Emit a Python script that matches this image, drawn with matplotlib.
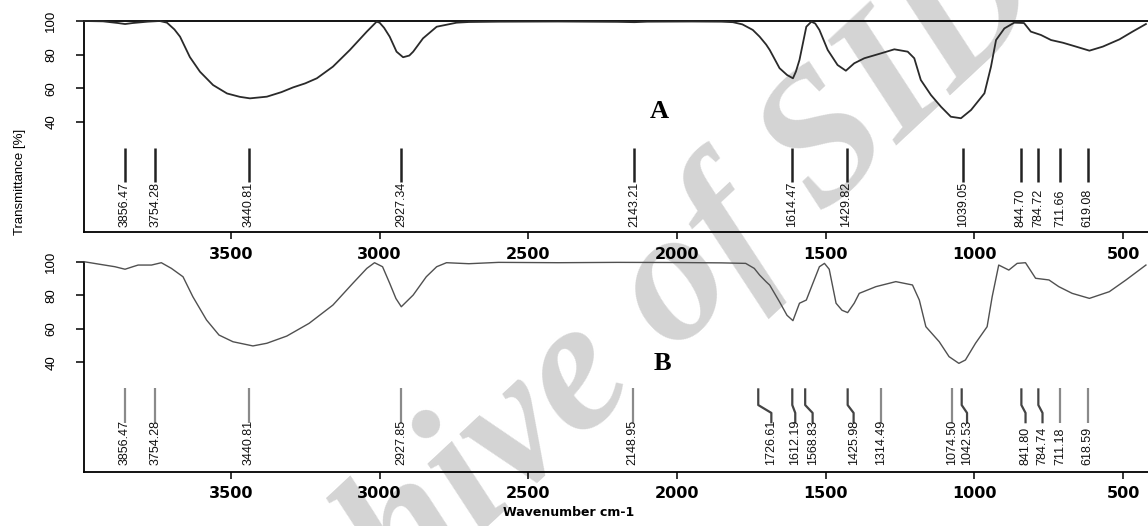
import matplotlib
matplotlib.use("Agg")
import matplotlib.pyplot as plt

# ---------------- data ----------------
wn_a = [3994, 3930, 3880, 3856, 3830, 3780, 3739, 3715, 3690, 3671, 3638, 3604, 3560, 3513,
        3470, 3436, 3379, 3330, 3291, 3250, 3211, 3157, 3100, 3043, 3010, 3000, 2985, 2966,
        2943, 2921, 2900, 2887, 2854, 2808, 2741, 2700, 2600, 2400, 2200, 2143, 2100, 1950,
        1850, 1812, 1780, 1745, 1722, 1700, 1688, 1655, 1630, 1610, 1600, 1588, 1565, 1548,
        1535, 1521, 1493, 1460, 1432, 1404, 1370, 1314, 1269, 1224, 1202, 1180, 1146, 1112,
        1079, 1045, 1011, 966, 944, 927, 899, 866, 833, 810, 776, 742, 702, 658, 613, 568,
        512, 468, 423]
t_a = [100, 99.8, 98.8, 98.2, 98.8, 99.6, 100, 99, 95, 90.7, 78.6, 69.9, 62, 57,
       55, 54.1, 55.1, 57.8, 60.6, 63, 66, 72.9, 82.8, 93.7, 99.6, 99, 96, 90.7,
       81.8, 78.5, 79.5, 81.8, 89.7, 96.6, 99, 99.4, 99.6, 99.7, 99.5, 99.3, 99.6, 99.7,
       99.6, 99.3, 98, 94.7, 90.7, 86, 82.8, 72, 68, 66, 70, 76.9, 96.6, 99.6,
       98.5, 94.7, 82.8, 73.9, 70.5, 74.9, 77.9, 80.8, 83.2, 81.8, 77.9, 65, 56.1, 49.1,
       43.2, 42.3, 47.2, 57.1, 72.9, 88.7, 95.6, 99, 98.8, 93.7, 91.7, 88.7, 87.1, 84.8, 82.4, 84.8,
       89.1, 93.7, 98.2]

wn_b = [3994, 3946, 3890, 3856, 3830, 3812, 3767, 3734, 3700, 3661, 3628, 3582, 3540, 3493,
        3426, 3379, 3312, 3237, 3157, 3090, 3043, 3017, 2990, 2966, 2945, 2927, 2887, 2843,
        2808, 2775, 2700, 2600, 2400, 2200, 2000, 1850, 1769, 1740, 1722, 1700, 1688, 1655,
        1630, 1610, 1588, 1565, 1543, 1521, 1504, 1488, 1465, 1445, 1426, 1404, 1387, 1331,
        1264, 1208, 1185, 1163, 1118, 1085, 1052, 1030, 996, 957, 940, 918, 884, 856, 828,
        794, 749, 716, 671, 613, 546, 490, 423]
t_b = [100, 98.6, 97, 95.5, 97, 98, 98, 99.4, 96, 91, 79.1, 65.2, 56.2, 52.2,
       49.7, 51.3, 55.6, 63.2, 74.1, 87.1, 96, 99.4, 97, 87.1, 78, 73.1, 80.1, 91,
       97, 99.4, 98.8, 99.6, 99.4, 99.6, 99.5, 99.3, 99, 96, 92, 88, 86, 76,
       68, 64.8, 75.2, 77.1, 87.1, 97, 99, 95.5, 75.2, 71, 69.6, 75.2, 81.1, 85.1,
       88.1, 86.1, 77.1, 61.2, 52.2, 43.3, 39.3, 41.3, 51.3, 61.2, 79.1, 98, 95, 99, 99.4,
       90.1, 89.1, 85.1, 81.1, 78.1, 82.1, 89.1, 98]

peaks_a = [3856.47, 3754.28, 3440.81, 2927.34, 2143.21, 1614.47, 1429.82, 1039.05,
           844.70, 784.72, 711.66, 619.08]
peaks_b = [3856.47, 3754.28, 3440.81, 2927.85, 2148.95, 1726.61, 1612.19, 1568.83,
           1425.98, 1314.49, 1074.50, 1042.53, 841.80, 784.74, 711.18, 618.59]

x_ticks = [3500, 3000, 2500, 2000, 1500, 1000, 500]
y_ticks = [40, 60, 80, 100]
panel_names = ["A", "B"]
x_label = "Wavenumber cm-1"
y_label = "Transmittance [%]"
watermark = "Archive of SID"

# ---------------- layout / style ----------------
# label leader shifts (label x = peak + shift) for crowded labels in panel B
label_shift_b = {1726.61: -44, 1612.19: -10, 1568.83: -25, 1425.98: -20,
                 1042.53: -18, 841.80: -14, 784.74: -14}

NARROW = ['Liberation Sans', 'DejaVu Sans']
W, H = 1148, 526
fig = plt.figure(figsize=(W / 100, H / 100), dpi=100)


def box(left, top, right, bottom):
    return [left / W, 1 - bottom / H, (right - left) / W, (bottom - top) / H]


ax_a = fig.add_axes(box(84, 21, 1148, 232))
ax_b = fig.add_axes(box(84, 261.7, 1148, 471.7))

# watermark behind everything
fig.text(595 / W, 1 - 372 / H, watermark, rotation=43, rotation_mode='anchor',
         ha='center', va='center', fontsize=135, family='Liberation Serif',
         style='italic', weight='bold', color='#d4d4d4', zorder=-5)

for ax, wn, t, ylo, col, lw in [(ax_a, wn_a, t_a, -25.2, '#2a2a2a', 1.3),
                                (ax_b, wn_b, t_b, -25.4, '#505050', 1.0)]:
    ax.set_facecolor('none')
    ax.plot(wn, t, color=col, lw=lw, clip_on=False, zorder=3)
    ax.set_xlim(3994, 416)
    ax.set_ylim(ylo, 100)
    ax.set_xticks(x_ticks)
    ax.set_xticklabels([str(v) for v in x_ticks], family='DejaVu Sans',
                       weight='bold', fontsize=11.5)
    ax.set_yticks(y_ticks)
    ax.set_yticklabels([str(v) for v in y_ticks], family=NARROW, fontsize=9.5,
                       rotation=90, va='center')
    ax.tick_params(axis='x', direction='out', length=5, width=1.1, pad=5.5)
    ax.tick_params(axis='y', direction='out', length=5.8, width=1.1, pad=13.5)
    ax.spines['right'].set_visible(False)
    for s in ax.spines.values():
        s.set_linewidth(1.3)

ax_b.spines['top'].set_visible(False)

# peak markers panel A
for p in peaks_a:
    ax_a.plot([p, p], [24.6, 4.5], color='#222222', lw=1.8, solid_capstyle='butt')
    ax_a.text(p, -22.3, f"{p:.2f}", rotation=90, ha='center', va='bottom',
              family=NARROW, fontsize=9, color='#111111')

# peak markers panel B
for p in peaks_b:
    q = p + label_shift_b.get(p, 0)
    if q != p:
        xs, ys = [p, p, q, q], [24.4, 14.4, 9.7, 3.5]
        c = '#444444'
    else:
        xs, ys = [p, p], [24.4, 3.5]
        c = '#8a8a8a'
    ax_b.plot(xs, ys, color=c, lw=1.6, solid_capstyle='butt')
    ax_b.text(q, -21.4, f"{p:.2f}", rotation=90, ha='center', va='bottom',
              family=NARROW, fontsize=9, color='#111111')

# panel letters
fig.text(659 / W, 1 - 112 / H, panel_names[0], family='Liberation Serif',
         weight='bold', fontsize=19, ha='center', va='center')
fig.text(662 / W, 1 - 363 / H, panel_names[1], family='Liberation Serif',
         weight='bold', fontsize=19, ha='center', va='center')

# axis titles
fig.text(569 / W, 1 - 513 / H, x_label, family='DejaVu Sans', weight='bold',
         fontsize=9, ha='center', va='center')
fig.text(20 / W, 1 - 182 / H, y_label, family=NARROW, fontsize=9.5,
         rotation=90, ha='center', va='center')

fig.savefig('out.png', dpi=100)
